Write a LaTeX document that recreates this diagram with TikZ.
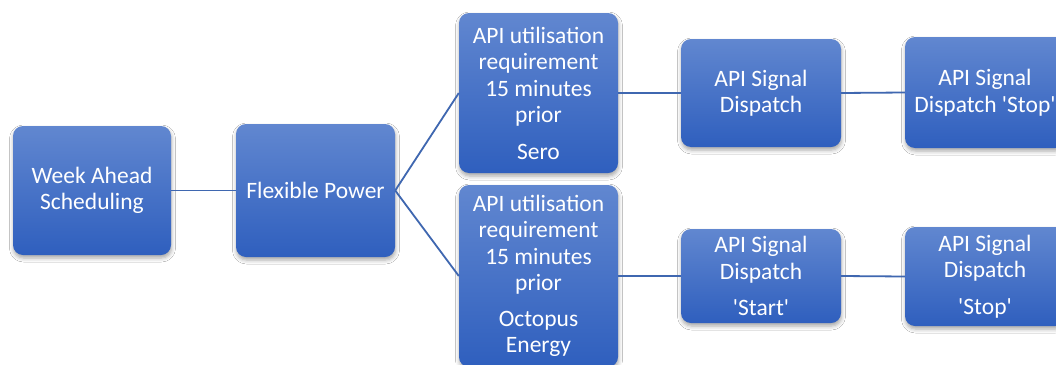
\documentclass[tikz,border=0pt]{standalone}
\usepackage{fontspec}
\newfontfamily\boxfont{Carlito}
\usetikzlibrary{shadows.blur}
\definecolor{boxtop}{HTML}{6187D0}
\definecolor{boxbot}{HTML}{2F5FBE}
\definecolor{linkblue}{HTML}{3F67B0}
\tikzset{
  stepbox/.style={
    rectangle, rounded corners=10pt, inner sep=0pt,
    top color=boxtop, bottom color=boxbot, draw=none,
    text=white, align=center,
    font=\boxfont\fontsize{23.5}{26.5}\selectfont,
    blur shadow={shadow xshift=0.5pt, shadow yshift=-3pt,
                 shadow blur radius=4pt, shadow opacity=35}
  },
  link/.style={draw=linkblue, line width=1.8pt}
}
\begin{document}
\begin{tikzpicture}[x=1pt, y=-1pt]
  \useasboundingbox (0,0) rectangle (1056,364);
  \clip (0,0) rectangle (1056,364);
  \fill[white] (0,0) rectangle (1056,364);

  % first two stages
  \node[stepbox, minimum width=158pt, minimum height=129pt] (week) at (92,190.5)
    {Week Ahead\\Scheduling};
  \node[stepbox, minimum width=159pt, minimum height=133pt] (flex) at (315.5,190.5)
    {Flexible Power};

  % upper branch
  \node[stepbox, minimum width=159pt, minimum height=160pt] (sero) at (538.5,93)
    {API utilisation\\requirement\\15 minutes\\prior\\[10pt]Sero};
  \node[stepbox, minimum width=160pt, minimum height=108pt] (disp) at (761,93)
    {API Signal\\Dispatch};
  \node[stepbox, minimum width=160pt, minimum height=111pt] (stopa) at (985,92.5)
    {API Signal\\Dispatch 'Stop'};

  % lower branch
  \node[stepbox, minimum width=159pt, minimum height=182pt] (octo) at (538.5,276)
    {API utilisation\\requirement\\15 minutes\\prior\\[9pt]Octopus\\Energy};
  \node[stepbox, minimum width=160pt, minimum height=94pt] (start) at (761,276)
    {API Signal\\Dispatch\\[10pt]'Start'};
  \node[stepbox, minimum width=160pt, minimum height=99pt] (stopb) at (985,276.5)
    {API Signal\\Dispatch\\[10pt]'Stop'};

  % connectors
  \draw[link] (week.east) -- (flex.west);
  \draw[link] (flex.east) -- (sero.west);
  \draw[link] (flex.east) -- (octo.west);
  \draw[link] (sero.east) -- (disp.west);
  \draw[link] (disp.east) -- (stopa.west);
  \draw[link] (octo.east) -- (start.west);
  \draw[link] (start.east) -- (stopb.west);
\end{tikzpicture}
\end{document}
